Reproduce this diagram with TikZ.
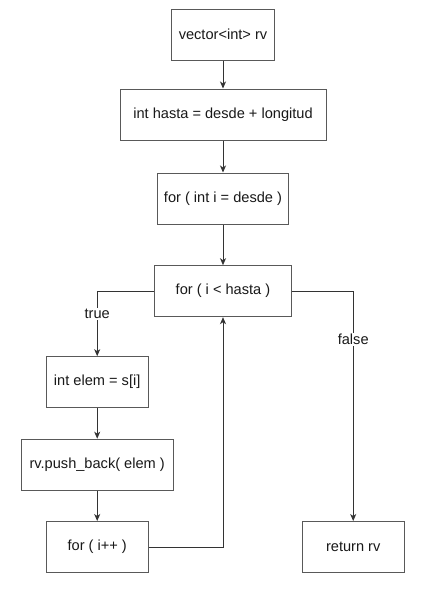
\documentclass[tikz,border=0pt]{standalone}
\usepackage{fontspec}
\setmainfont{Liberation Sans}
\usetikzlibrary{arrows.meta}
\begin{document}
\begin{tikzpicture}[x=1pt,y=-1pt,
  box/.style={draw=black!65,line width=1pt,fill=white,minimum height=51pt,inner sep=0pt,font=\fontsize{14.6}{17}\selectfont,text=black!90},
  conn/.style={draw=black!80,line width=0.9pt,-{Stealth[length=7pt,width=6pt,inset=2pt]}},
  lbl/.style={fill=white,font=\fontsize{14.6}{17}\selectfont,inner sep=1.5pt,text=black!90}]
\useasboundingbox (0,0) rectangle (438,589);
\node[box,minimum width=102.6pt] (b1) at (223,34.7) {vector<int> rv};
\node[box,minimum width=206pt] (b2) at (223,114.5) {int hasta = desde + longitud};
\node[box,minimum width=131.4pt] (b3) at (223,198.5) {for ( int i = desde )};
\node[box,minimum width=136.6pt] (b4) at (223,291.2) {for ( i < hasta )};
\node[box,minimum width=102.3pt] (b5) at (97.2,382.2) {int elem = s[i]};
\node[box,minimum width=152.3pt] (b6) at (97.2,464.7) {rv.push\_back( elem )};
\node[box,minimum width=102.3pt] (b7) at (97.2,547) {for ( i++ )};
\node[box,minimum width=102.3pt] (b8) at (353.2,547) {return rv};
\coordinate (cl) at (97.2,291.2);
\coordinate (cr) at (353.2,291.2);
\coordinate (cu) at (223,547);
\draw[conn] (b1) -- (b2);
\draw[conn] (b2) -- (b3);
\draw[conn] (b3) -- (b4);
\draw[conn] (b4.west) -- (cl) -- (b5.north) node[lbl,pos=0.35] {true};
\draw[conn] (b4.east) -- (cr) -- (b8.north) node[lbl,pos=0.21] {false};
\draw[conn] (b5) -- (b6);
\draw[conn] (b6) -- (b7);
\draw[conn] (b7.east) -- (cu) -- (b4.south);
\end{tikzpicture}
\end{document}
